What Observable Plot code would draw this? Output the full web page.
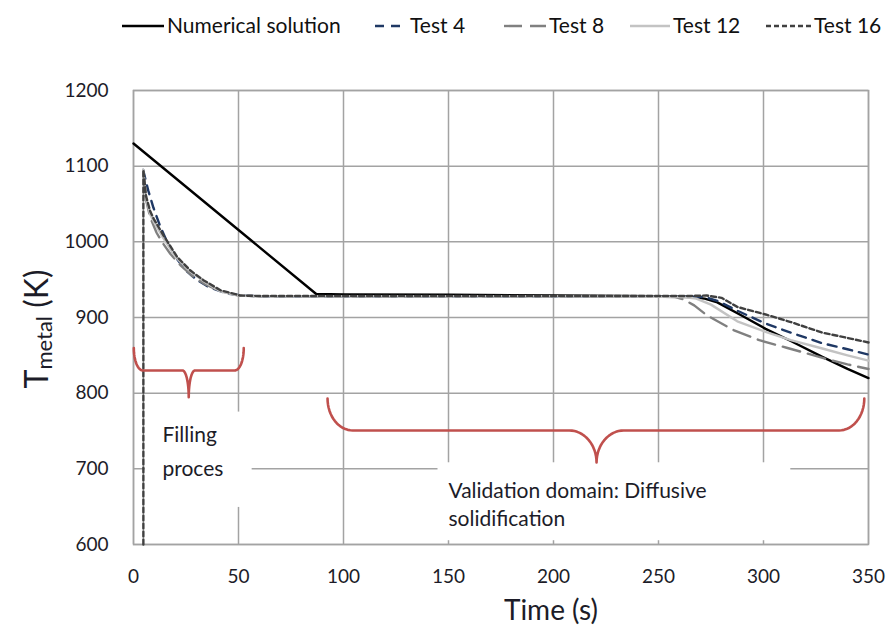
<!DOCTYPE html>
<html><head><meta charset="utf-8">
<script src="https://cdn.jsdelivr.net/npm/d3@7"></script>
<script src="https://cdn.jsdelivr.net/npm/@observablehq/plot@0.6"></script>
<style>
body{margin:0;background:#fff;font-family:Lato,"Open Sans",sans-serif;}
#legend,#chart{display:block;}
</style>
</head><body>
<svg id="legend" width="894" height="50"></svg>
<div id="chart"></div>
<script>
// ---- data (time in s, temperature in K) ----
const numTime   = [0, 87, 100, 150, 200, 250, 265, 272, 278, 290, 301, 313, 328, 340, 350];
const numTemp   = [1130, 931, 930.5, 930, 929, 928, 927, 925, 920, 902, 885, 869, 848, 832, 820];

const t4Time = [4.6, 7, 9.5, 12.5, 16, 20, 25, 30, 36, 44, 52, 60, 100, 150, 200, 250, 265, 272, 278, 287.5, 301, 313, 328, 340, 350];
const t4Temp = [1095, 1068, 1045, 1022, 1000, 980, 962, 950, 940, 932, 929, 928, 928, 928, 928, 927.5, 927.5, 927, 922, 909, 892, 880, 866, 858, 851];

const t8Time = [4.6, 6, 8, 11, 14, 17.6, 22.4, 28, 34, 41, 50, 60, 100, 150, 200, 250, 258, 262, 267, 273, 286, 298, 311, 324, 330, 340, 350];
const t8Temp = [1095, 1055, 1032, 1012, 998, 984, 969, 955, 944, 935, 929, 928, 928, 928, 928, 927.5, 927, 924, 916, 903, 883, 870, 860, 850, 845, 838, 832];

const t12Time = [4.6, 6, 8, 10, 14, 20, 27, 34, 41, 50, 60, 100, 150, 200, 250, 262, 268, 275, 287.5, 301, 313, 328, 340, 350];
const t12Temp = [1095, 1058, 1036, 1025, 1006, 980, 961, 947, 935, 929, 928, 928, 928, 928, 927.5, 927, 925, 917, 895, 881, 870, 859, 850, 843];

const t16Time = [4.7, 4.7, 6, 8, 9.7, 14.4, 20.8, 27.1, 33.5, 41.4, 50.9, 60, 100, 150, 200, 250, 265, 273, 280, 287.5, 301, 313, 328, 340, 350];
const t16Temp = [600, 1095, 1060, 1040, 1030, 1008, 980, 962, 949, 936, 929, 928.5, 928.5, 928.5, 928.5, 928.5, 928.5, 929, 926, 914, 904, 894, 880, 873, 867];

const seriesNames = ["Numerical solution", "Test 4", "Test 8", "Test 12", "Test 16"];
const xTicks = [0, 50, 100, 150, 200, 250, 300, 350];
const yTicks = [600, 700, 800, 900, 1000, 1100, 1200];

// annotation braces (data coordinates)
const braceX1   = [0.15, 92.4];
const braceX2   = [52.5, 348];
const braceXc   = [26.3, 220.5];
const braceTop  = [859.5, 793];
const braceMid  = [830, 750.7];
const braceTip  = [794.7, 708.4];
const braceREnd = [4.3, 12];
const braceRMid = [3, 13];

// annotation text boxes and labels
const boxX1 = [5.6, 145];
const boxX2 = [56.5, 313];
const boxY1 = [649, 605];
const boxY2 = [775, 708];
const noteText = ["Filling", "proces", "Validation domain: Diffusive", "solidification"];
const noteX = [13.8, 13.8, 150, 150];
const noteY = [744, 699, 671, 634];

// ---- styles ----
const styles = [
  {stroke: "#000000", dash: null,   width: 2.4},
  {stroke: "#1f3864", dash: "9,7",  width: 2.4},
  {stroke: "#808080", dash: "18,8", width: 2.4},
  {stroke: "#c3c3c3", dash: null,   width: 2.4},
  {stroke: "#404040", dash: "5,3",  width: 2.4}
];

const toRows = (ts, vs) => ts.map((t, i) => ({t, T: vs[i]}));
const series = [
  toRows(numTime, numTemp),
  toRows(t4Time, t4Temp),
  toRows(t8Time, t8Temp),
  toRows(t12Time, t12Temp),
  toRows(t16Time, t16Temp)
];

// brace points generator
function bracePoints(i) {
  const x1 = braceX1[i], x2 = braceX2[i], xc = braceXc[i];
  const yT = braceTop[i], yM = braceMid[i], yP = braceTip[i];
  const rE = braceREnd[i], rM = braceRMid[i];
  const pts = [];
  const n = 16;
  const arc = (cx, cy, rx, ry, a0, a1) => {
    for (let k = 0; k <= n; k++) {
      const a = a0 + (a1 - a0) * k / n;
      pts.push({t: cx + rx * Math.cos(a), T: cy + ry * Math.sin(a), id: i});
    }
  };
  arc(x1 + rE, yT, rE, yT - yM, Math.PI, 1.5 * Math.PI);
  arc(xc - rM, yP, rM, yM - yP, 0.5 * Math.PI, 0);
  arc(xc + rM, yP, rM, yM - yP, Math.PI, 0.5 * Math.PI);
  arc(x2 - rE, yT, rE, yT - yM, 1.5 * Math.PI, 2 * Math.PI);
  return pts;
}
const braces = braceX1.flatMap((_, i) => bracePoints(i));
const boxes = boxX1.map((_, i) => ({x1: boxX1[i], x2: boxX2[i], y1: boxY1[i], y2: boxY2[i]}));
const notes = noteText.map((s, i) => ({s, t: noteX[i], T: noteY[i]}));

const gridColor = "#a3a3a3";
const textColor = "#1c1c28";

const plot = Plot.plot({
  width: 894,
  height: 580,
  marginTop: 40,
  marginBottom: 86,
  marginLeft: 133,
  marginRight: 26,
  style: {background: "#fff", fontFamily: "Lato, 'Open Sans', sans-serif", color: textColor},
  x: {domain: [0, 350]},
  y: {domain: [600, 1200]},
  marks: [
    Plot.gridX(xTicks, {stroke: gridColor, strokeOpacity: 1, strokeWidth: 1.5}),
    Plot.gridY(yTicks, {stroke: gridColor, strokeOpacity: 1, strokeWidth: 1.5}),
    Plot.frame({stroke: gridColor, strokeWidth: 1.5}),
    Plot.rect(boxes, {x1: "x1", x2: "x2", y1: "y1", y2: "y2", fill: "#fff"}),
    ...series.map((d, i) => Plot.line(d, {
      x: "t", y: "T",
      stroke: styles[i].stroke,
      strokeWidth: styles[i].width,
      strokeDasharray: styles[i].dash,
      strokeLinejoin: "round"
    })),
    Plot.line(braces, {x: "t", y: "T", z: "id", stroke: "#c0504d", strokeWidth: 2.6, strokeLinejoin: "round", strokeLinecap: "round"}),
    Plot.text(notes, {x: "t", y: "T", text: "s", textAnchor: "start", fontSize: 21, fill: textColor}),
    Plot.axisX(xTicks, {tickSize: 0, tickPadding: 25, fontSize: 19, label: null, fill: textColor, tickFormat: d => String(d)}),
    Plot.axisY(yTicks, {tickSize: 0, tickPadding: 25, fontSize: 19, label: null, fill: textColor, tickFormat: d => String(d)})
  ]
});
document.getElementById("chart").appendChild(plot);

// axis titles (SVG coordinates; the SVG starts 50px below the page top)
const svg = d3.select(plot);
svg.append("text")
  .attr("x", 551).attr("y", 570)
  .attr("text-anchor", "middle")
  .attr("font-size", 28)
  .attr("fill", textColor)
  .text("Time (s)");
const yl = svg.append("text")
  .attr("transform", "translate(48,279) rotate(-90)")
  .attr("text-anchor", "middle")
  .attr("fill", textColor);
yl.append("tspan").attr("font-size", 32).text("T");
yl.append("tspan").attr("font-size", 22).attr("dy", 4).text("metal");
yl.append("tspan").attr("font-size", 32).attr("dy", -4).text(" (K)");

// legend
const legendX = [122, 375, 504, 630, 766];
const legendW = [42, 32, 42, 40, 45];
const lg = d3.select("#legend");
seriesNames.forEach((name, i) => {
  const x0 = legendX[i];
  lg.append("line")
    .attr("x1", x0).attr("x2", x0 + legendW[i])
    .attr("y1", 26).attr("y2", 26)
    .attr("stroke", styles[i].stroke)
    .attr("stroke-width", styles[i].width)
    .attr("stroke-dasharray", styles[i].dash);
  lg.append("text")
    .attr("x", x0 + legendW[i] + 3).attr("y", 33)
    .attr("font-size", 21)
    .attr("fill", "#111")
    .text(name);
});
</script>
</body></html>
